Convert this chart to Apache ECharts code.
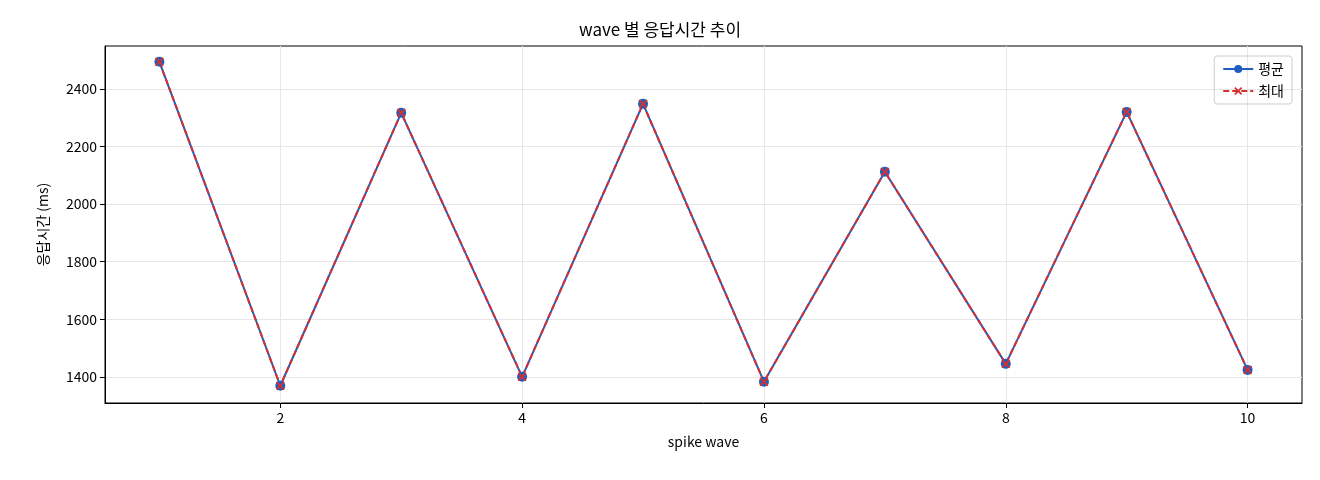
<!DOCTYPE html>
<html><head><meta charset="utf-8">
<script src="https://cdn.jsdelivr.net/npm/echarts@6/dist/echarts.min.js"></script>
<style>html,body{margin:0;padding:0;background:#fff}#c{width:1320px;height:480px}</style>
</head><body><div id="c"></div>
<script>
const waves = [1,2,3,4,5,6,7,8,9,10];
const avgMs = [2494,1369,2317,1400,2348,1383,2112,1445,2320,1424];
const maxMs = [2494,1369,2317,1400,2348,1383,2112,1445,2320,1424];
const xTicks = [2,4,6,8,10];
const yTicks = [1400,1600,1800,2000,2200,2400];
const font = '"Noto Sans CJK KR", "DejaVu Sans", sans-serif';
const X = 'path://M0,1.5L1.5,0L5,3.5L8.5,0L10,1.5L6.5,5L10,8.5L8.5,10L5,6.5L1.5,10L0,8.5L3.5,5Z';
const chart = echarts.init(document.getElementById('c'));
chart.setOption({
  animation:false,
  textStyle:{fontFamily:font},
  title:{text:'wave 별 응답시간 추이',left:'center',top:16,textStyle:{fontSize:17,fontWeight:'normal',color:'#000',fontFamily:font}},
  grid:{left:105,right:18,top:46,bottom:77,show:true,borderColor:'#000',borderWidth:1},
  legend:{right:28,top:56,orient:'vertical',itemGap:8,itemWidth:30,itemHeight:10,
    borderColor:'#ccc',borderWidth:1,borderRadius:3,padding:[6,8],
    textStyle:{fontSize:14,color:'#000'},
    data:['평균','최대']},
  xAxis:{type:'value',min:0.55,max:10.45,name:'spike wave',nameLocation:'middle',nameGap:32,
    nameTextStyle:{fontSize:14,color:'#000'},
    axisLine:{onZero:false,lineStyle:{color:'#000'}},
    axisTick:{show:true,customValues:xTicks,length:5,lineStyle:{color:'#000'}},
    axisLabel:{customValues:xTicks,fontSize:14,color:'#000'},
    splitLine:{show:true,lineStyle:{color:'#e6e6e6'}}},
  yAxis:{type:'value',min:1309,max:2549,name:'응답시간 (ms)',nameLocation:'middle',nameGap:55,
    nameTextStyle:{fontSize:14,color:'#000'},
    axisLine:{show:true,lineStyle:{color:'#000'}},
    axisTick:{show:true,customValues:yTicks,length:5,lineStyle:{color:'#000'}},
    axisLabel:{customValues:yTicks,fontSize:14,color:'#000',formatter:v=>String(v)},
    splitLine:{show:true,lineStyle:{color:'#e6e6e6'}}},
  series:[
    {name:'평균',type:'line',data:waves.map((w,i)=>[w,avgMs[i]]),symbol:'circle',symbolSize:10,
      lineStyle:{color:'#1f5fbf',width:2},itemStyle:{color:'#1f5fbf'}},
    {name:'최대',type:'line',data:waves.map((w,i)=>[w,maxMs[i]]),symbol:X,symbolSize:9,
      lineStyle:{color:'#d62f2f',width:2,type:[6,3]},itemStyle:{color:'#d62f2f'}}
  ]
});
</script></body></html>
